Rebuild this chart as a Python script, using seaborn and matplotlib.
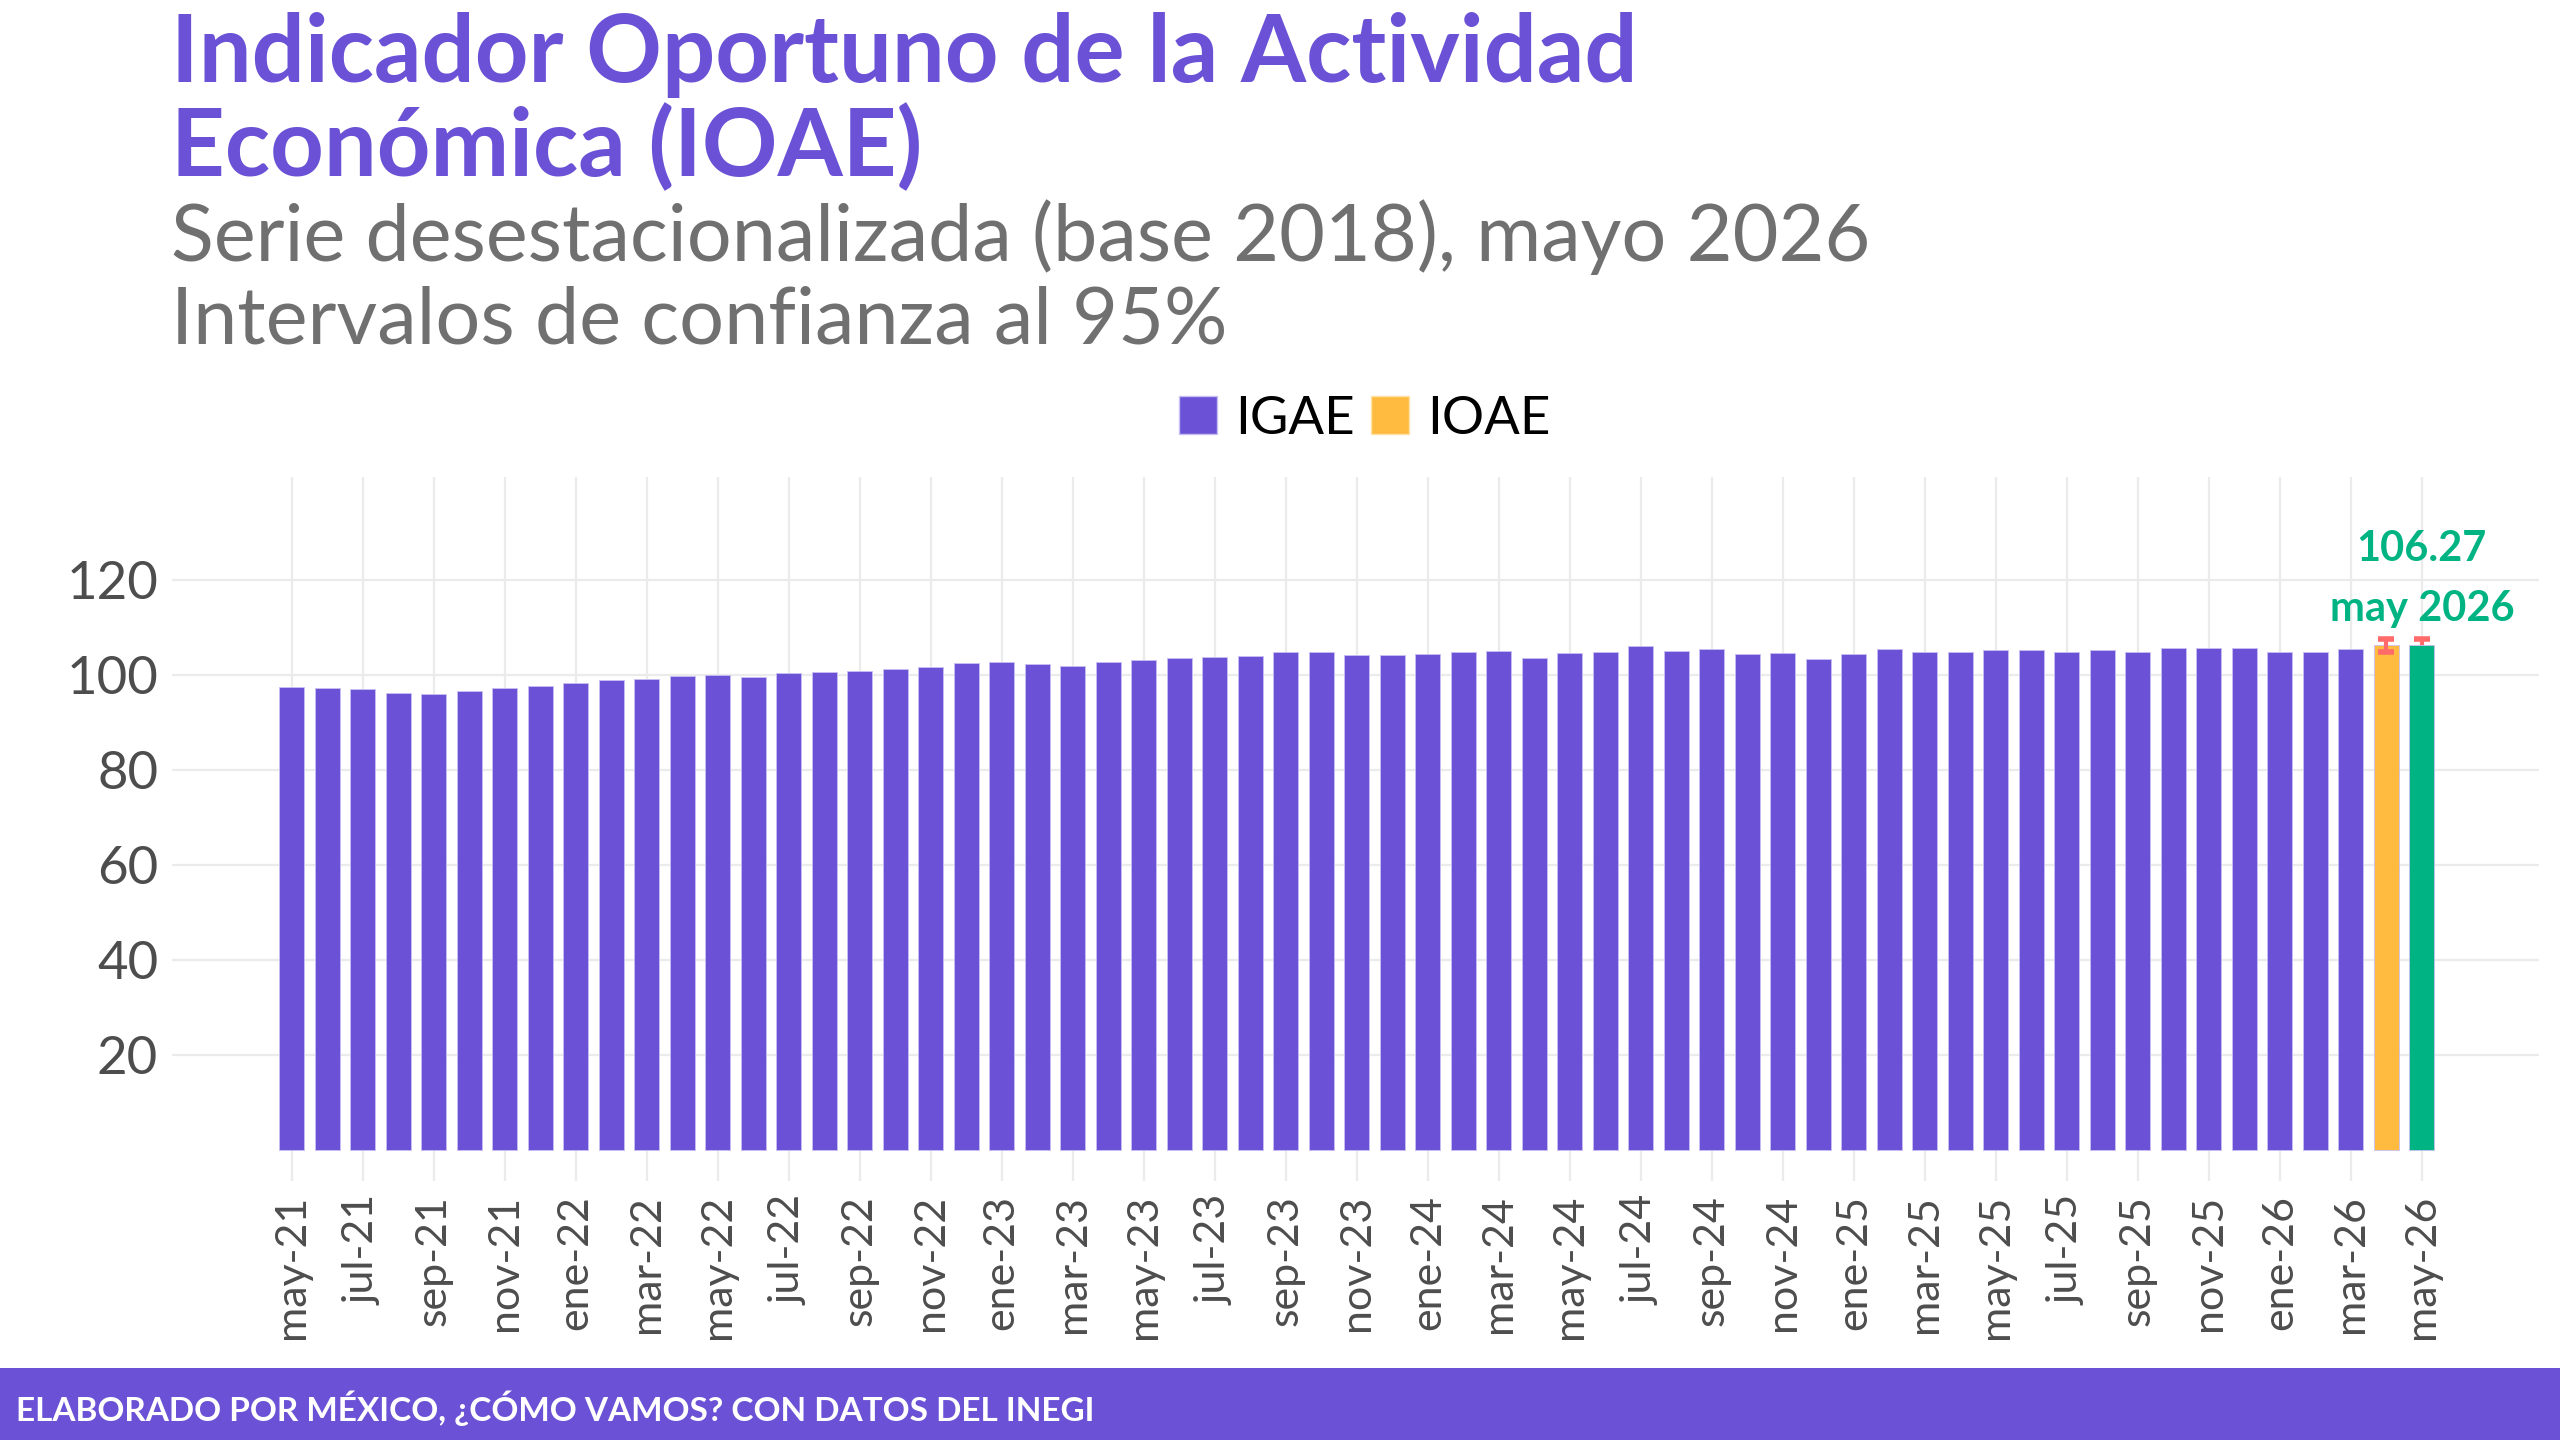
import numpy as np
import pandas as pd
import matplotlib
matplotlib.use("Agg")
import matplotlib.pyplot as plt
import seaborn as sns
from matplotlib.patches import Patch, Rectangle

# ---------------- data ----------------
meses = ["may-21", "jun-21", "jul-21", "ago-21", "sep-21", "oct-21", "nov-21", "dic-21",
         "ene-22", "feb-22", "mar-22", "abr-22", "may-22", "jun-22", "jul-22", "ago-22",
         "sep-22", "oct-22", "nov-22", "dic-22", "ene-23", "feb-23", "mar-23", "abr-23",
         "may-23", "jun-23", "jul-23", "ago-23", "sep-23", "oct-23", "nov-23", "dic-23",
         "ene-24", "feb-24", "mar-24", "abr-24", "may-24", "jun-24", "jul-24", "ago-24",
         "sep-24", "oct-24", "nov-24", "dic-24", "ene-25", "feb-25", "mar-25", "abr-25",
         "may-25", "jun-25", "jul-25", "ago-25", "sep-25", "oct-25", "nov-25", "dic-25",
         "ene-26", "feb-26", "mar-26", "abr-26", "may-26"]

igae = [97.4, 97.25, 97.0, 96.3, 96.1, 96.7, 97.25, 97.8,
        98.4, 98.9, 99.2, 99.9, 100.0, 99.65, 100.35, 100.7,
        100.9, 101.3, 101.8, 102.5, 102.7, 102.25, 101.9, 102.8,
        103.1, 103.5, 103.8, 104.0, 104.8, 104.8, 104.2, 104.2,
        104.5, 104.8, 105.1, 103.7, 104.7, 104.8, 106.1, 105.1,
        105.4, 104.4, 104.7, 103.3, 104.4, 105.4, 104.9, 104.9,
        105.3, 105.3, 104.9, 105.3, 104.8, 105.8, 105.6, 105.6,
        104.8, 104.9, 105.4]

ioae = [106.25, 106.27]
ioae_inf = [104.9, 104.8]
ioae_sup = [107.6, 107.7]

serie = ["IGAE"] * len(igae) + ["IOAE", "IOAE_ult"]
etiqueta_valor = "106.27"
etiqueta_fecha = "may 2026"

titulo = "Indicador Oportuno de la Actividad\nEconómica (IOAE)"
subtitulo = "Serie desestacionalizada (base 2018), mayo 2026\nIntervalos de confianza al 95%"
fuente = "ELABORADO POR MÉXICO, ¿CÓMO VAMOS? CON DATOS DEL INEGI"

# ---------------- style ----------------
PURPLE = "#6A51D6"
ORANGE = "#FFBB40"
GREEN = "#00B383"
RED = "#FF6B6B"
GRID = "#EBEBEB"

sns.set_theme(style="white")
plt.rcParams["font.family"] = ["Lato", "DejaVu Sans"]

df = pd.DataFrame({"mes": meses, "valor": igae + ioae, "serie": serie})

fig = plt.figure(figsize=(25.6, 14.4), dpi=100)
ax = fig.add_axes([0.0672, 1 - 1181 / 1440, 0.9246, (1181 - 477) / 1440])
ax.set_axisbelow(True)

sns.barplot(data=df, x="mes", y="valor", hue="serie", order=meses,
            palette={"IGAE": PURPLE, "IOAE": ORANGE, "IOAE_ult": GREEN},
            dodge=False, width=0.7, saturation=1, errorbar=None,
            legend=False, ax=ax, edgecolor="#C9C0F2", linewidth=0.6, zorder=2)

pos = [len(igae), len(igae) + 1]
# orange errorbar drawn on top, green one under its bar
ax.errorbar([pos[0]], [ioae[0]], yerr=[[ioae[0] - ioae_inf[0]], [ioae_sup[0] - ioae[0]]],
            fmt="none", ecolor=RED, elinewidth=3, capsize=6, capthick=4, zorder=4)
ax.errorbar([pos[1]], [ioae[1]], yerr=[[ioae[1] - ioae_inf[1]], [ioae_sup[1] - ioae[1]]],
            fmt="none", ecolor=RED, elinewidth=3, capsize=6, capthick=4, zorder=1.5)

ax.text(pos[1], 126.5, etiqueta_valor, ha="center", va="center", color=GREEN,
        fontsize=30, fontweight="bold")
ax.text(pos[1], 114.0, etiqueta_fecha, ha="center", va="center", color=GREEN,
        fontsize=30, fontweight="bold")

ax.set_ylim(-6.5, 141.7)
ax.set_xlim(-3.37, len(meses) - 1 + 3.3)
ax.set_yticks([20, 40, 60, 80, 100, 120])
ax.set_xticks(range(0, len(meses), 2))
ax.set_xticklabels(meses[::2], rotation=90)
ax.set_xlabel("")
ax.set_ylabel("")
ax.grid(True, axis="both", color=GRID, linewidth=1.6)
for s in ax.spines.values():
    s.set_visible(False)
ax.tick_params(axis="y", length=0, pad=10, labelsize=38, labelcolor="#4D4D4D")
ax.tick_params(axis="x", length=0, pad=10, labelsize=31, labelcolor="#4D4D4D")

# legend
handles = [Patch(facecolor=PURPLE, edgecolor="#C9C0F2", label="IGAE"),
           Patch(facecolor=ORANGE, edgecolor="#FFE2A8", label="IOAE")]
fig.legend(handles=handles, loc="center", bbox_to_anchor=(0.533, 0.709), ncol=2,
           frameon=False, fontsize=38, handlelength=0.72, handleheight=0.72,
           handletextpad=0.35, columnspacing=0.3, labelcolor="black")

# titles
fig.text(171 / 2560, 1 - 82 / 1440, titulo.split("\n")[0], color=PURPLE, fontsize=67.5,
         fontweight="bold", va="baseline", ha="left")
fig.text(171 / 2560, 1 - 176 / 1440, titulo.split("\n")[1], color=PURPLE, fontsize=67.5,
         fontweight="bold", va="baseline", ha="left")
fig.text(171 / 2560, 1 - 261 / 1440, subtitulo.split("\n")[0], color="#707070", fontsize=57,
         va="baseline", ha="left")
fig.text(171 / 2560, 1 - 343 / 1440, subtitulo.split("\n")[1], color="#707070", fontsize=57,
         va="baseline", ha="left")

# footer band
fig.patches.append(Rectangle((0, 0), 1, 72 / 1440, transform=fig.transFigure,
                             facecolor=PURPLE, edgecolor="none", zorder=0))
fig.text(16 / 2560, 32 / 1440, fuente, color="white", fontsize=24, fontweight="bold",
         va="center", ha="left")

fig.savefig("out.png", dpi=100)
